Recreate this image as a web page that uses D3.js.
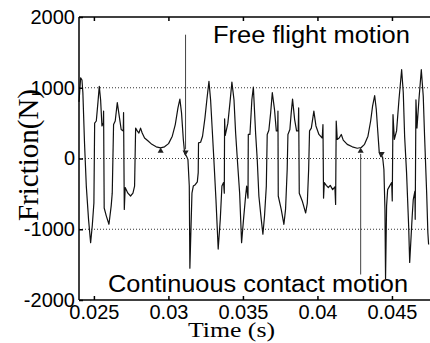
<!DOCTYPE html>
<html>
<head>
<meta charset="utf-8">
<script src="https://cdn.jsdelivr.net/npm/d3@7"></script>
<style>
  body { margin: 0; background: #fff; }
  svg { display: block; }
</style>
</head>
<body>
<div id="chart"></div>
<script>
// friction trace (time in s, friction in N)
const time = [
  0.02400, 0.02411, 0.02420, 0.02426, 0.02437, 0.02449, 0.02464, 0.02478, 0.02489, 0.02500,
  0.02505, 0.02516, 0.02527, 0.02536, 0.02545, 0.02554, 0.02563, 0.02565, 0.02569, 0.02583,
  0.02601, 0.02616, 0.02623, 0.02632, 0.02643, 0.02657, 0.02672, 0.02683, 0.02697, 0.02699,
  0.02704, 0.02710, 0.02728, 0.02746, 0.02762, 0.02773, 0.02780, 0.02791, 0.02802, 0.02813,
  0.02824, 0.02840, 0.02862, 0.02889, 0.02918, 0.02947, 0.02974, 0.03001, 0.03026, 0.03046,
  0.03064, 0.03077, 0.03088, 0.03100, 0.03109, 0.03122, 0.03131, 0.03140, 0.03144, 0.03158,
  0.03167, 0.03180, 0.03194, 0.03200, 0.03202, 0.03216, 0.03229, 0.03245, 0.03258, 0.03272,
  0.03283, 0.03294, 0.03305, 0.03319, 0.03334, 0.03348, 0.03359, 0.03370, 0.03375, 0.03377,
  0.03381, 0.03399, 0.03413, 0.03426, 0.03440, 0.03451, 0.03464, 0.03478, 0.03491, 0.03504,
  0.03518, 0.03525, 0.03534, 0.03536, 0.03547, 0.03560, 0.03570, 0.03585, 0.03596, 0.03607,
  0.03623, 0.03634, 0.03645, 0.03657, 0.03663, 0.03674, 0.03686, 0.03697, 0.03712, 0.03724,
  0.03733, 0.03735, 0.03737, 0.03757, 0.03775, 0.03786, 0.03797, 0.03802, 0.03815, 0.03824,
  0.03833, 0.03847, 0.03860, 0.03871, 0.03874, 0.03878, 0.03898, 0.03921, 0.03932, 0.03941,
  0.03947, 0.03959, 0.03976, 0.03990, 0.04010, 0.04032, 0.04037, 0.04041, 0.04046, 0.04059,
  0.04073, 0.04086, 0.04102, 0.04117, 0.04122, 0.04126, 0.04133, 0.04146, 0.04160, 0.04173,
  0.04200, 0.04234, 0.04267, 0.04294, 0.04316, 0.04339, 0.04357, 0.04370, 0.04384, 0.04395,
  0.04404, 0.04415, 0.04426, 0.04437, 0.04446, 0.04453, 0.04457, 0.04464, 0.04471, 0.04484,
  0.04498, 0.04502, 0.04507, 0.04516, 0.04531, 0.04547, 0.04565, 0.04576, 0.04585, 0.04598,
  0.04612, 0.04619, 0.04636, 0.04643, 0.04654, 0.04656, 0.04661, 0.04668, 0.04681, 0.04697,
  0.04710, 0.04719, 0.04733, 0.04741, 0.04746
];
const friction = [
  800, 1140, 1110, 930, 220, -390, -860, -1190, -950, -630,
  500, 530, 790, 1020, 830, 460, 500, 670, -700, -810,
  -930, -670, -490, 480, 530, 790, 570, 410, 390, 650,
  -720, -410, -490, -530, -490, -390, 430, 390, 360, 430,
  360, 290, 250, 200, 165, 150, 165, 210, 315, 480,
  715, 840, 645, 270, 70, 30, -15, -390, -1550, -490,
  -390, -370, -330, -200, 220, 230, 315, 570, 830, 1090,
  830, 410, -15, -580, -1280, -860, -390, -340, -490, 560,
  325, 500, 790, 1080, 830, 360, -60, -490, -1190, -860,
  -530, -390, -560, 340, 340, 830, 1010, 360, -15, -530,
  -860, -1070, -810, -390, 340, 400, 645, 930, 690, 390,
  390, 670, -530, -720, -930, -720, -155, 340, 410, 645,
  840, 550, 390, 390, 715, -490, -600, -770, -630, -155,
  390, 430, 670, 460, 340, 290, 480, -560, -340, -380,
  -410, -380, -440, -400, -650, 530, 270, 290, 340, 260,
  200, 165, 145, 155, 200, 315, 530, 740, 890, 690,
  410, 80, 25, 25, -155, -720, -1700, -670, -440, -390,
  -340, -600, 620, 270, 390, 830, 1255, 930, 315, -200,
  -950, -1470, -810, -580, -460, -860, 830, 430, 830, 1255,
  880, 315, -490, -1050, -1215
];

const yTicks = [-2000, -1000, 0, 1000, 2000];
const xTicks = [0.025, 0.03, 0.035, 0.04, 0.045];
const gridValues = [-1000, 0, 1000];

// small triangles on the trace
const markerTime = [0.02948, 0.03115, 0.04290, 0.04431];
const markerValue = [150, 45, 150, 25];
const markerDir = ['up', 'down', 'up', 'down'];

// pointer lines from the two labels
const arrowTime = [0.03115, 0.04290];
const arrowEnd = [1750, -1640];
const arrowMarker = [1, 2];

const width = 430, height = 343;
const plot = {left: 79, top: 17, right: 430.7, bottom: 300};

const x = d3.scaleLinear().domain([0.024, 0.0476]).range([plot.left, plot.right]);
const y = d3.scaleLinear().domain([-2000, 2000]).range([plot.bottom, plot.top]);

const svg = d3.select("#chart").append("svg")
    .attr("width", width)
    .attr("height", height);

// dotted grid
svg.append("g").selectAll("line")
    .data(gridValues)
    .enter().append("line")
    .attr("x1", plot.left).attr("x2", plot.right)
    .attr("y1", d => y(d)).attr("y2", d => y(d))
    .style("stroke", "#333")
    .style("stroke-width", 1)
    .style("stroke-dasharray", "1,2");

// trace
const pts = time.map((t, i) => [t, friction[i]]);
const line = d3.line()
    .x(d => x(d[0]))
    .y(d => y(d[1]));

svg.append("path")
    .datum(pts)
    .attr("d", line)
    .style("fill", "none")
    .style("stroke", "#111")
    .style("stroke-width", 1.2)
    .style("stroke-linejoin", "round");

// pointer lines
svg.append("g").selectAll("line")
    .data(arrowTime)
    .enter().append("line")
    .attr("x1", d => x(d)).attr("x2", d => x(d))
    .attr("y1", (d, i) => y(arrowEnd[i]))
    .attr("y2", (d, i) => {
        const m = arrowMarker[i];
        return markerDir[m] === 'down' ? y(markerValue[m]) - 6 : y(markerValue[m]) + 6;
    })
    .style("stroke", "#444")
    .style("stroke-width", 1);

// triangles
const tri = d3.symbol().type(d3.symbolTriangle).size(16);
svg.append("g").selectAll("path")
    .data(markerTime)
    .enter().append("path")
    .attr("d", tri)
    .attr("transform", (d, i) => {
        const down = markerDir[i] === 'down';
        const cy = y(markerValue[i]) + (down ? -3 : 3);
        return "translate(" + x(d) + "," + cy + ")" + (down ? " rotate(180)" : "");
    })
    .style("fill", "#222");

// frame
const frame = svg.append("g").style("stroke", "#000").style("stroke-width", 1.5);
frame.append("line").attr("x1", plot.left).attr("x2", width).attr("y1", plot.top).attr("y2", plot.top);
frame.append("line").attr("x1", plot.left).attr("x2", width).attr("y1", plot.bottom).attr("y2", plot.bottom);
frame.append("line").attr("x1", plot.left).attr("x2", plot.left).attr("y1", plot.top).attr("y2", plot.bottom);

// axes
svg.append("g")
    .attr("transform", "translate(" + plot.left + ",0)")
    .call(d3.axisLeft(y).tickValues(yTicks).tickSize(-4).tickPadding(4).tickFormat(d => String(d)));

svg.append("g")
    .attr("transform", "translate(0," + plot.bottom + ")")
    .call(d3.axisBottom(x).tickValues(xTicks).tickSize(-4).tickPadding(5).tickFormat(d => String(d)));

svg.append("g")
    .attr("transform", "translate(0," + plot.top + ")")
    .call(d3.axisTop(x).tickValues(xTicks).tickSize(-4).tickFormat(""));

svg.selectAll(".domain").remove();
svg.selectAll(".tick line").style("stroke", "#000").style("stroke-width", 1.5);
svg.selectAll(".tick text")
    .style("font-family", "'Liberation Sans', Arial, sans-serif")
    .style("font-size", "20px")
    .style("fill", "#000");

// annotation texts
svg.append("text")
    .attr("x", 213).attr("y", 43)
    .attr("textLength", 197).attr("lengthAdjust", "spacingAndGlyphs")
    .style("font-family", "'Liberation Sans', Arial, sans-serif")
    .style("font-size", "23px")
    .text("Free flight motion");

svg.append("text")
    .attr("x", 108).attr("y", 292)
    .attr("textLength", 300).attr("lengthAdjust", "spacingAndGlyphs")
    .style("font-family", "'Liberation Sans', Arial, sans-serif")
    .style("font-size", "23px")
    .text("Continuous contact motion");

// axis titles
svg.append("text")
    .attr("transform", "translate(38,155) rotate(-90)")
    .attr("text-anchor", "middle")
    .attr("textLength", 132).attr("lengthAdjust", "spacingAndGlyphs")
    .style("font-family", "'Liberation Serif', 'Times New Roman', serif")
    .style("font-size", "30px")
    .text("Friction(N)");

svg.append("text")
    .attr("x", 231.5).attr("y", 337)
    .attr("text-anchor", "middle")
    .attr("textLength", 87).attr("lengthAdjust", "spacingAndGlyphs")
    .style("font-family", "'Liberation Serif', 'Times New Roman', serif")
    .style("font-size", "20px")
    .text("Time (s)");
</script>
</body>
</html>
